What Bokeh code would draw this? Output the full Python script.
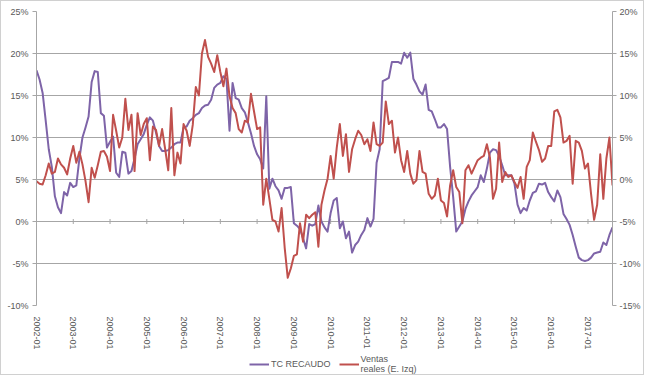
import math
from bokeh.plotting import figure
from bokeh.layouts import column
from bokeh.models import (Range1d, LinearAxis, FixedTicker, PrintfTickFormatter,
                          Legend, LegendItem, ColumnDataSource)
from bokeh.embed import file_html
from bokeh.resources import INLINE

years = list(range(2002, 2018))
tick_labels = [f"{y}-01" for y in years]
months = [f"{y}-{m:02d}" for y in years for m in range(1, 13)][:189]

left_ticks = [-10, -5, 0, 5, 10, 15, 20, 25]
right_ticks = [-15, -10, -5, 0, 5, 10, 15, 20]

series_names = ["TC RECAUDO", "Ventas\nreales (E. Izq)"]

# TC RECAUDO (right axis, %)
tc_recaudo = [
    13.0, 11.9, 10.3, 7.0, 3.6, 1.5, -2.0, -3.3, -4.0, -1.5,
    -1.9, -0.4, -0.9, -0.7, 2.5, 5.0, 6.2, 7.5, 11.6, 12.9,
    12.8, 7.9, 7.6, 3.8, 4.5, 5.1, 0.8, 0.3, 3.3, 3.2,
    0.7, 1.0, 2.5, 4.2, 4.8, 5.4, 6.5, 7.4, 7.0, 5.6,
    4.0, 3.4, 3.4, 3.5, 3.8, 4.2, 4.4, 4.4, 6.2, 6.3,
    7.0, 7.3, 7.7, 7.9, 8.5, 8.8, 8.9, 9.5, 10.9, 11.3,
    11.5, 12.3, 12.0, 5.8, 11.5, 9.7, 9.5, 8.5, 8.0, 6.8,
    5.5, 4.0, 3.0, 2.4, 1.3, 9.9, -1.1, 0.1, -0.8, -1.3,
    -2.3, -1.0, -1.0, -0.9, -5.2, -5.5, -5.9, -7.0, -8.2, -5.3,
    -5.5, -5.3, -3.1, -5.0, -5.7, -6.2, -4.0, -2.5, -2.2, -5.8,
    -5.0, -7.0, -6.2, -8.7, -7.8, -7.4, -6.6, -6.0, -4.6, -5.6,
    -4.7, 2.0, 3.6, 11.7, 11.9, 12.1, 14.0, 14.0, 14.0, 13.8,
    15.1, 14.5, 15.1, 12.0, 11.3, 10.5, 10.1, 11.3, 8.3, 8.1,
    7.2, 6.2, 6.2, 6.6, 6.0, 1.5, -2.1, -6.2, -5.6, -5.0,
    -3.5, -2.6, -1.9, -1.4, -0.9, 0.5, -0.3, 1.3, 3.2, 3.6,
    3.5, 2.8, 1.7, 0.5, 0.5, 0.5, -0.5, -3.0, -4.0, -3.4,
    -3.7, -2.5, -1.6, -1.4, -0.5, -0.6, -0.4, -1.5, -2.1, -2.6,
    -1.3, -2.1, -4.1, -4.7, -5.4, -6.6, -8.0, -9.3, -9.6, -9.7,
    -9.6, -9.3, -8.8, -8.7, -8.6, -7.5, -7.8, -6.6, -5.7,
]

# Ventas reales (left axis, %)
ventas_reales = [
    4.8, 4.5, 4.4, 5.5, 6.9, 5.7, 5.9, 7.5, 6.8, 6.4,
    5.6, 7.5, 9.0, 7.0, 8.3, 6.8, 4.8, 2.3, 6.4, 5.2,
    6.7, 8.3, 8.4, 7.7, 6.0, 12.7, 10.8, 8.8, 10.0, 14.6,
    10.9, 12.7, 6.0, 12.9, 10.3, 11.6, 12.3, 7.3, 11.3, 10.9,
    9.0, 11.0, 8.6, 6.1, 13.5, 5.5, 8.2, 6.9, 11.6, 10.8,
    9.0, 11.5, 16.0, 15.0, 20.0, 21.6, 19.6, 18.8, 17.8, 19.8,
    17.8, 16.1, 18.2, 14.9, 13.5, 12.9, 11.0, 10.6, 12.0, 11.8,
    15.2, 13.1, 11.0, 11.2, 2.0, 5.1, 2.7, 0.2, 0.0, -1.2,
    1.6, -3.1, -6.7, -5.6, -4.1, -3.9, -0.2, -2.4, 0.8, 0.4,
    0.8, 1.1, -3.0, 2.0, 3.7, 5.1, 7.8, 5.1, 8.8, 11.6,
    7.8, 10.4, 5.9, 8.6, 9.8, 10.8, 10.3, 9.2, 9.8, 8.4,
    11.8, 9.2, 9.0, 9.4, 14.3, 11.6, 12.0, 8.2, 10.0, 7.3,
    5.9, 8.4, 5.7, 4.5, 4.9, 8.4, 5.9, 5.7, 3.3, 2.7,
    3.1, 5.1, 2.5, 2.2, 0.6, 4.3, 6.1, 4.1, 3.5, -0.2,
    6.1, 6.7, 5.7, 6.5, 7.3, 7.6, 7.8, 9.2, 7.6, 2.7,
    3.9, 9.4, 4.7, 5.9, 5.3, 5.5, 4.7, 4.0, 5.3, 2.7,
    6.5, 7.3, 10.6, 9.5, 8.5, 7.1, 7.5, 9.0, 9.0, 13.1,
    13.3, 12.4, 9.4, 9.6, 10.2, 4.5, 9.6, 9.4, 8.4, 6.3,
    6.9, 3.3, 0.2, 2.0, 8.0, 2.7, 7.5, 10.0, 4.3,
]

n = min(len(months), len(tc_recaudo), len(ventas_reales))
src = ColumnDataSource(dict(x=list(range(n)), month=months[:n],
                            tc=tc_recaudo[:n], ventas=ventas_reales[:n]))

GRID = "#a6a6a6"
TXT = "#595959"
FONT = "Liberation Sans"
FS = "9px"
PURPLE = "#7e64a8"
RED = "#c0504d"

W = 642
p = figure(width=W, height=351, output_backend="svg", toolbar_location=None,
           x_range=Range1d(0, n - 1), y_range=Range1d(left_ticks[0], left_ticks[-1]),
           min_border_left=35, min_border_right=27, min_border_top=10,
           min_border_bottom=40)
p.extra_y_ranges = {"right": Range1d(right_ticks[0], right_ticks[-1])}
p.outline_line_color = None
p.background_fill_color = "white"
p.border_fill_color = "white"

# grid
p.xgrid.visible = False
p.ygrid.ticker = FixedTicker(ticks=left_ticks)
p.ygrid.grid_line_color = GRID
p.ygrid.grid_line_width = 1


def style_y(ax):
    ax.axis_line_color = GRID
    ax.major_tick_line_color = GRID
    ax.major_tick_out = 4
    ax.major_tick_in = 0
    ax.minor_tick_line_color = None
    ax.major_label_text_font = FONT
    ax.major_label_text_font_size = FS
    ax.major_label_text_color = TXT
    ax.major_label_standoff = 4


la = p.yaxis[0]
la.ticker = FixedTicker(ticks=left_ticks)
la.formatter = PrintfTickFormatter(format="%d%%")
style_y(la)

ra = LinearAxis(y_range_name="right", ticker=FixedTicker(ticks=right_ticks),
                formatter=PrintfTickFormatter(format="%d%%"))
style_y(ra)
ra.major_label_standoff = 3
p.add_layout(ra, "right")

# bottom axis (labels only)
tick_idx = [months.index(t) for t in tick_labels if t in months[:n]]
xa = p.xaxis[0]
xa.ticker = FixedTicker(ticks=tick_idx)
xa.major_label_overrides = {i: months[i] for i in tick_idx}
xa.major_label_orientation = -math.pi / 2
xa.axis_line_color = None
xa.major_tick_line_color = None
xa.minor_tick_line_color = None
xa.major_label_text_font = FONT
xa.major_label_text_font_size = FS
xa.major_label_text_color = TXT
xa.major_label_standoff = 5

# tick marks on the 0% line (category axis crossing)
p.scatter(x=tick_idx, y=[0] * len(tick_idx), marker="dash", angle=math.pi / 2,
          size=5, line_color=GRID, line_width=1)

r1 = p.line("x", "tc", source=src, y_range_name="right", line_color=PURPLE,
            line_width=2, line_join="round")
r2 = p.line("x", "ventas", source=src, line_color=RED, line_width=2,
            line_join="round")

# legend strip below the chart (same series, viewed outside their x span)
lg = figure(width=W, height=22, output_backend="svg", toolbar_location=None,
            min_border=0, x_range=Range1d(n + 10, n + 11), y_range=Range1d(0, 1))
lg.axis.visible = False
lg.grid.visible = False
lg.outline_line_color = None
lg.border_fill_color = "white"
e1 = lg.line("x", "tc", source=src, line_color=PURPLE, line_width=2)
e2 = lg.line("x", "ventas", source=src, line_color=RED, line_width=2)
legend = Legend(items=[LegendItem(label=series_names[0], renderers=[e1]),
                       LegendItem(label=series_names[1], renderers=[e2])],
                orientation="horizontal", location=(213, 0),
                border_line_color=None, background_fill_alpha=0,
                label_text_font=FONT, label_text_font_size=FS,
                label_text_color=TXT, glyph_width=20, label_standoff=2,
                spacing=8, padding=0, margin=0)
lg.add_layout(legend, "center")

layout = column(p, lg, spacing=0)
layout.styles = {"border": "1px solid #d0d0d0"}
open("out.html", "w").write(file_html(layout, INLINE))
